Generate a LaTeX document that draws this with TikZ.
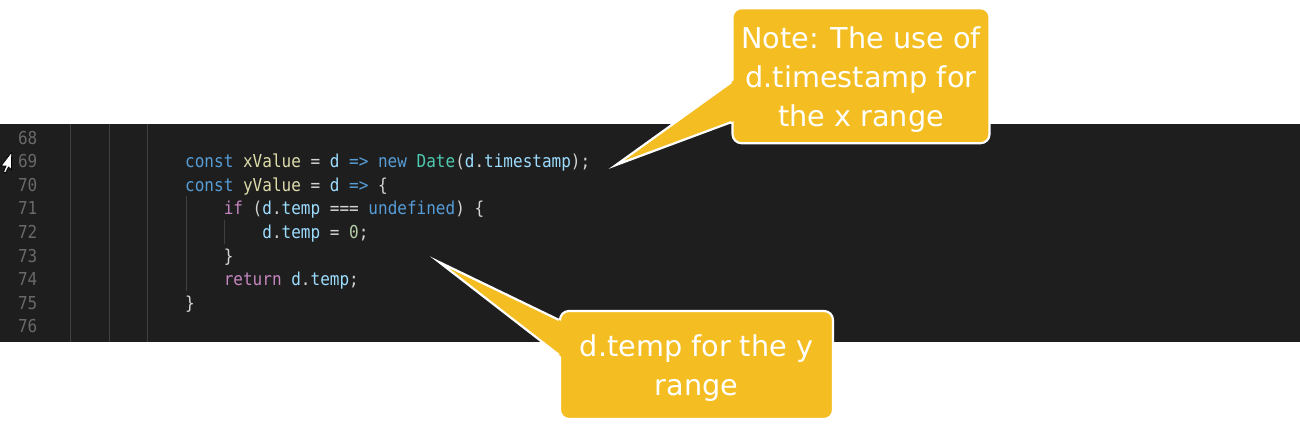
\documentclass[tikz,border=0pt]{standalone}
\usepackage{fontspec}
\usepackage{xcolor}
\usetikzlibrary{calc}
\newfontfamily\codefont[FakeStretch=0.9]{DejaVu Sans Mono}
\newfontfamily\notefont{DejaVu Sans}
\newcommand{\tk}[2]{\textcolor{#1}{#2}}
\newcommand{\nstrut}{\rule[-8pt]{0pt}{39pt}}

\begin{document}
\begin{tikzpicture}[x=1pt,y=1pt,
  lineno/.style={text=lnColor,anchor=base west,inner sep=0pt,outer sep=0pt,font=\codefont\fontsize{17.8}{20}\selectfont},
  codeline/.style={anchor=base west,inner sep=0pt,outer sep=0pt,font=\codefont\fontsize{17.8}{20}\selectfont},
  guide/.style={draw=guideColor,line width=0.8pt},
  notebox/.style={fill=noteColor,draw=white,line width=2.2pt,rounded corners=9pt,text=white,align=center,inner sep=0pt,font=\notefont\fontsize{28.7}{39}\selectfont},
  notewedge/.style={draw=white,line width=2.2pt,line join=miter}]
\definecolor{fillColor}{RGB}{255,255,255}
\definecolor{bandColor}{RGB}{30,30,30}
\definecolor{lnColor}{RGB}{105,105,105}
\definecolor{guideColor}{RGB}{64,64,64}
\definecolor{kwBlue}{RGB}{86,156,214}
\definecolor{fnYellow}{RGB}{220,220,170}
\definecolor{varBlue}{RGB}{156,220,254}
\definecolor{punct}{RGB}{212,212,212}
\definecolor{clsTeal}{RGB}{78,201,176}
\definecolor{ctrlPink}{RGB}{197,134,192}
\definecolor{numGreen}{RGB}{181,206,168}
\definecolor{noteColor}{RGB}{244,190,35}
\path[use as bounding box,fill=fillColor] (0,0) rectangle (1300,433);

\begin{scope}
\path[fill=bandColor] (0,91.3) rectangle (1300,309);

\path[guide] ( 70.3, 91.3) -- ( 70.3,309);
\path[guide] (108.9, 91.3) -- (108.9,309);
\path[guide] (147.5, 91.3) -- (147.5,309);
\path[guide] (185.9,141.9) -- (185.9,236.5);
\path[guide] (224.5,189.3) -- (224.5,212.9);

\node[lineno] (ln68) at (18,288.8) {68};
\node[lineno] (ln69) at (18,265.2) {69};
\node[lineno] (ln70) at (18,241.6) {70};
\node[lineno] (ln71) at (18,218.0) {71};
\node[lineno] (ln72) at (18,194.4) {72};
\node[lineno] (ln73) at (18,170.8) {73};
\node[lineno] (ln74) at (18,147.2) {74};
\node[lineno] (ln75) at (18,123.6) {75};
\node[lineno] (ln76) at (18,100.0) {76};

\node[codeline] (code69) at (185.2,265.2) {\tk{kwBlue}{const} \tk{fnYellow}{xValue} \tk{punct}{=} \tk{varBlue}{d} \tk{kwBlue}{=>} \tk{kwBlue}{new} \tk{clsTeal}{Date}\tk{punct}{(}\tk{varBlue}{d}\tk{punct}{.}\tk{varBlue}{timestamp}\tk{punct}{);}};
\node[codeline] (code70) at (185.2,241.6) {\tk{kwBlue}{const} \tk{fnYellow}{yValue} \tk{punct}{=} \tk{varBlue}{d} \tk{kwBlue}{=>} \tk{punct}{\{}};
\node[codeline] (code71) at (223.8,218.0) {\tk{ctrlPink}{if} \tk{punct}{(}\tk{varBlue}{d}\tk{punct}{.}\tk{varBlue}{temp} \tk{punct}{===} \tk{kwBlue}{undefined}\tk{punct}{)} \tk{punct}{\{}};
\node[codeline] (code72) at (262.4,194.4) {\tk{varBlue}{d}\tk{punct}{.}\tk{varBlue}{temp} \tk{punct}{=} \tk{numGreen}{0}\tk{punct}{;}};
\node[codeline] (code73) at (223.8,170.8) {\tk{punct}{\}}};
\node[codeline] (code74) at (223.8,147.2) {\tk{ctrlPink}{return} \tk{varBlue}{d}\tk{punct}{.}\tk{varBlue}{temp}\tk{punct}{;}};
\node[codeline] (code75) at (185.2,123.6) {\tk{punct}{\}}};

\path[fill=white,draw=black,line width=0.8pt,line join=round] (11.7,281) -- (11.5,263) -- (8.5,266) -- (5.5,260) -- (3.5,261) -- (6,267) -- (1,267) -- cycle;
\end{scope}

\begin{scope}
\node[notebox,minimum width=257,minimum height=135] (noteX) at (861,357.3) {\nstrut Note: The use of\\\nstrut d.timestamp for\\\nstrut the x range};
\coordinate (tipX) at (616,268);
\path[fill=noteColor] (tipX) -- ($(tipX)!1.05!([yshift=-75pt]noteX.north west)$) -- ($(tipX)!1.05!([yshift=-115pt]noteX.north west)$) -- cycle;
\path[notewedge] ([yshift=-75pt]noteX.north west) -- (tipX) -- ([yshift=-115pt]noteX.north west);

\node[notebox,minimum width=273,minimum height=108] (noteY) at (696.5,68) {\nstrut d.temp for the y\\\nstrut range};
\coordinate (tipY) at (439,171);
\path[fill=noteColor] (tipY) -- ($(tipY)!1.05!([yshift=-10pt]noteY.north west)$) -- ($(tipY)!1.05!([yshift=-45pt]noteY.north west)$) -- cycle;
\path[notewedge] ([yshift=-10pt]noteY.north west) -- (tipY) -- ([yshift=-45pt]noteY.north west);
\end{scope}
\end{tikzpicture}
\end{document}
